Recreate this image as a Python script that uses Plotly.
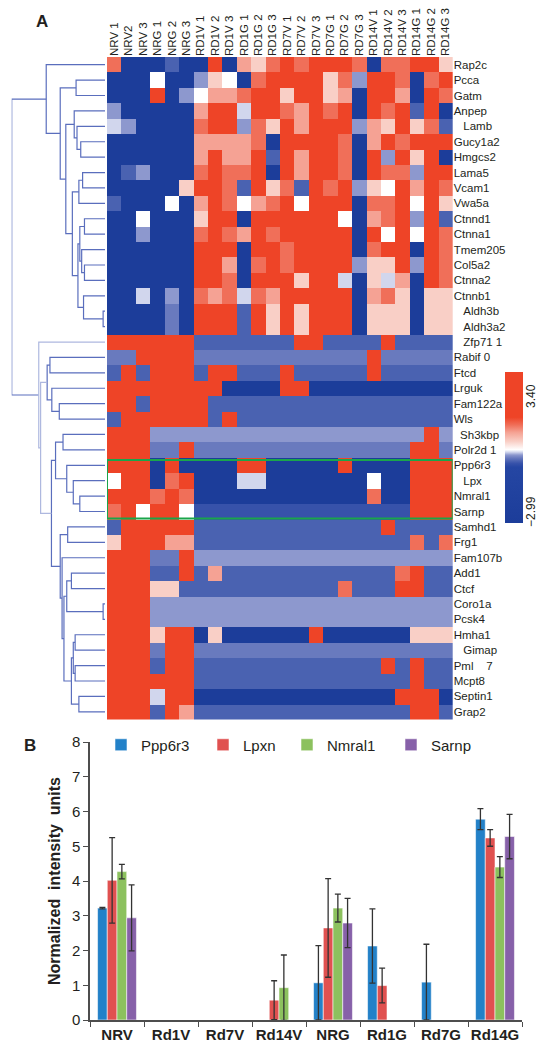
import plotly.graph_objects as go

W, H = 546, 1050
NB = "\u00a0"

# ---------------- Panel A data ----------------
col_labels = ["NRV 1", "NRV2", "NRV 3", "NRG 1", "NRG 2", "NRG 3",
              "RD1V 1", "RD1V 2", "RD1V 3", "RD1G 1", "RD1G 2", "RD1G 3",
              "RD7V 1", "RD7V 2", "RD7V 3", "RD7G 1", "RD7G 2", "RD7G 3",
              "RD14V 1", "RD14V 2", "RD14V 3", "RD14G 1", "RD14G 2", "RD14G 3"]

row_labels = ["Rap2c", "Pcca", "Gatm", "Anpep", NB * 3 + "Lamb", "Gucy1a2", "Hmgcs2",
              "Lama5", "Vcam1", "Vwa5a", "Ctnnd1", "Ctnna1", "Tmem205", "Col5a2",
              "Ctnna2", "Ctnnb1", NB * 3 + "Aldh3b", NB * 3 + "Aldh3a2", NB * 3 + "Zfp71 1",
              "Rabif 0", "Ftcd", "Lrguk", "Fam122a", "Wls", NB * 2 + "Sh3kbp", "Polr2d 1",
              "Ppp6r3", NB * 3 + "Lpx", "Nmral1", "Sarnp", "Samhd1", "Frg1", "Fam107b",
              "Add1", "Ctcf", "Coro1a", "Pcsk4", "Hmha1", NB * 3 + "Gimap",
              "Pml" + NB * 4 + "7", "Mcpt8", "Septin1", "Grap2"]

# colour level of every cell (one string per gene row, one char per sample column)
heat_rows = [
    "sBBBbBBRBqpsRsRRRsBssRRp",
    "BBBwBBlpwBsRRRRpslRRsBsR",
    "BBBRBlwqqsRRpRRpqBRRqBRs",
    "lBBBBBqRRvRRsqRsRBRsRbRB",
    "vlBBBBsRRlspRqRRRlqpRpsb",
    "BBBBBBqqqqsBRRRRsBqRsRRR",
    "BBBBBBqRqqRbRqRRsBRlRpRB",
    "BblBBBsRssRBRqRRsBRsslRR",
    "BBBBBpRRsbRpsbRsRlpwRqRs",
    "bBBBwBqRswqsRwRRRBssRwRp",
    "BBwBBBpRRBRRRRRRwBqsRlRb",
    "BBlBBBsRsqRsRRRRRBRwRwRs",
    "BBBBBBRRRBRRsRRRRBsRRBRs",
    "BBBBBBRRqBsRsRRRRlppRlRs",
    "BBBBBBRRsBRRRpRRvBpvqBRs",
    "BBvBlBsqsvsqRRRRRBqspBpp",
    "BBBBmBRRRbRpRpRRRBpppBpp",
    "BBBBmBRRRbRpRpRRRBpppBpp",
    "RRRRRRbbbbbbbRRbbbbRbbbb",
    "mmRRRRmmmmmmmmmmmmRmmmmm",
    "bRbRRRbRRbbbRbbbbbRbbbbb",
    "RRRRRRRRBBBBRRBBBBBBBBBB",
    "RRbRRRRbbbbbbbbbbbbbbbbb",
    "bRRRRRRbRbbbbbbbbbbbbbbb",
    "RRRlllllllllllllllllllRl",
    "RRRmmRmmmmmmmmmmmmmmmRRm",
    "RRRBRBBBBRRBBBBBRBBBBRRR",
    "wRRBsRBBBvvBBBBBBBwBBRRR",
    "RRRsRsBBBBBBBBBBBBsBBRRR",
    "sRwRRwDDDDDDDDDDDDDDDRRR",
    "bRRRRRbbbbbbbbbbbbbRbbbb",
    "pRRRqqbbbbbbbbbbbbbbbsbs",
    "RRRmmRllllllllllllllllll",
    "RRRbbRbqbbbbbbbbbbbbsRbb",
    "RRRppbbbbbbbbbbbsbbbRRbb",
    "RRRlllllllllllllllllllll",
    "RRRlllllllllllllllllllll",
    "RRRpRRBpBBBBBBRBBBBBBppp",
    "RRRmRRmmmmmmmmmmmmmmmmmm",
    "RRRbRRbbbbbbbbbbbbbRbRbb",
    "RRRRRRbbbbbbbbbbbbbbbRbb",
    "RRRvRRBBBBBBBBBBBBBBRRRB",
    "RRRbRqbbbbbbbbbbbbbbbRRb",
]

# value (log-scale units of the colour bar) for each colour level
level_values = {"B": -2.99, "D": -0.47, "b": -0.37, "m": -0.24, "l": -0.11,
                "v": 0.01, "w": 0.11, "p": 0.46, "q": 0.84, "s": 1.16, "R": 3.0}
zmin, zmax = -2.99, 3.40

# row dendrogram: [child_a, child_b, distance] (scipy-style ids, leaves 0..42)
linkage = [
    [16, 17, 0.02], [15, 43, 0.23], [13, 14, 0.22], [12, 45, 0.25], [10, 11, 0.22],
    [47, 46, 0.27], [48, 44, 0.29], [7, 8, 0.24], [9, 50, 0.28], [51, 49, 0.35],
    [5, 6, 0.26], [4, 53, 0.30], [3, 54, 0.33], [55, 52, 0.42], [1, 2, 0.31],
    [57, 56, 0.48], [0, 58, 0.63],
    [19, 20, 0.59], [22, 23, 0.49], [21, 61, 0.57], [60, 62, 0.62],
    [24, 25, 0.45], [28, 29, 0.27], [27, 65, 0.34], [26, 66, 0.41], [64, 67, 0.53],
    [30, 31, 0.40], [33, 34, 0.36], [35, 36, 0.02], [70, 71, 0.41],
    [37, 38, 0.32], [39, 40, 0.32], [73, 74, 0.34], [41, 42, 0.28], [75, 76, 0.36],
    [72, 77, 0.44], [32, 78, 0.46], [69, 79, 0.48], [68, 80, 0.574],
    [63, 81, 0.69], [18, 82, 0.71], [59, 83, 1.0],
]
light_links = [39, 40]

# ---------------- Panel B data ----------------
categories = ["NRV", "Rd1V", "Rd7V", "Rd14V", "NRG", "Rd1G", "Rd7G", "Rd14G"]
series_names = ["Ppp6r3", "Lpxn", "Nmral1", "Sarnp"]
# None = no expression detected (no bar drawn)
ppp6r3 = [3.22, None, None, None, 1.07, 2.13, 1.09, 5.78]
ppp6r3_err = [0.02, None, None, None, 1.07, 1.07, 1.09, 0.30]
lpxn = [4.02, None, None, 0.57, 2.65, 0.99, None, 5.24]
lpxn_err = [1.23, None, None, 0.56, 1.42, 0.50, None, 0.24]
nmral1 = [4.27, None, None, 0.93, 3.22, None, None, 4.40]
nmral1_err = [0.21, None, None, 0.94, 0.40, None, None, 0.30]
sarnp = [2.94, None, None, None, 2.79, None, None, 5.28]
sarnp_err = [0.95, None, None, None, 0.71, None, None, 0.64]
bar_colors = ["#2381c8", "#e05150", "#8cc15e", "#8761a9"]


def fx(px):
    return px / W


def fy(py):
    return 1 - py / H


FONT = "Liberation Sans"
TXT = "#231f20"

fig = go.Figure()

# heatmap
z = [[level_values[c] for c in row] for row in heat_rows]
cscale = [
    [0.0, "#1c3d9a"], [0.37, "#2546a3"], [0.395, "#3752aa"], [0.41, "#4a62b1"],
    [0.43, "#6879be"], [0.45, "#8a96cd"], [0.47, "#d3d8ee"], [0.485, "#ffffff"],
    [0.54, "#f9cfc6"], [0.60, "#f5a293"], [0.65, "#f06e58"], [0.70, "#ee4427"],
    [1.0, "#ee4427"],
]
fig.add_trace(go.Heatmap(
    z=z, x=list(range(len(col_labels))), y=list(range(len(row_labels))),
    zmin=zmin, zmax=zmax, colorscale=cscale, xaxis="x", yaxis="y",
    showscale=True, hoverinfo="skip",
    colorbar=dict(x=fx(505), xanchor="left", y=fy(372), yanchor="top",
                  len=151 / H, lenmode="fraction", thickness=18, thicknessmode="pixels",
                  xpad=0, ypad=0, outlinewidth=0, showticklabels=False, ticks=""),
))

# dendrogram
n = len(row_labels)
pos = {i: float(i) for i in range(n)}
hgt = {i: 0.0 for i in range(n)}
dx, dy, lx, ly = [], [], [], []
for k, (a, b, h) in enumerate(linkage):
    xs = [hgt[a], h, h, hgt[b], None]
    ys = [pos[a], pos[a], pos[b], pos[b], None]
    if k in light_links:
        lx += xs
        ly += ys
    else:
        dx += xs
        dy += ys
    pos[n + k] = (pos[a] + pos[b]) / 2
    hgt[n + k] = h
fig.add_trace(go.Scatter(x=dx, y=dy, mode="lines", line=dict(color="#5a6ebd", width=1.2),
                         xaxis="x2", yaxis="y2", showlegend=False, hoverinfo="skip"))
fig.add_trace(go.Scatter(x=lx, y=ly, mode="lines", line=dict(color="#aeb8df", width=1.2),
                         xaxis="x2", yaxis="y2", showlegend=False, hoverinfo="skip"))

# bars
vals = [ppp6r3, lpxn, nmral1, sarnp]
errs = [ppp6r3_err, lpxn_err, nmral1_err, sarnp_err]
legend_ids = ["legend", "legend2", "legend3", "legend4"]
for name, v, e, c, lg in zip(series_names, vals, errs, bar_colors, legend_ids):
    fig.add_trace(go.Bar(
        x=categories, y=v, name=name,
        marker=dict(color=c, line=dict(color="rgba(255,255,255,0.55)", width=1)),
        error_y=dict(type="data", array=e, visible=True, color="#333333", thickness=1.3, width=3),
        xaxis="x3", yaxis="y3", legend=lg, hoverinfo="skip",
    ))

heat_top, heat_bot = 57, 719.5
layout = dict(
    width=W, height=H, margin=dict(l=0, r=0, t=0, b=0, autoexpand=False),
    paper_bgcolor="white", plot_bgcolor="white",
    font=dict(family=FONT, color=TXT),
    xaxis=dict(domain=[fx(107), fx(452.7)], range=[-0.5, len(col_labels) - 0.5], anchor="y",
               side="top", tickmode="array", tickvals=list(range(len(col_labels))),
               ticktext=col_labels, tickangle=-90, tickfont=dict(size=11.5, color=TXT),
               showgrid=False, zeroline=False, showline=False, ticks="", automargin=False),
    yaxis=dict(domain=[fy(heat_bot), fy(heat_top)], range=[n - 0.5, -0.5], anchor="x",
               side="right", tickmode="array", tickvals=list(range(n)), ticktext=row_labels,
               tickfont=dict(size=11.5, color=TXT), showgrid=False, zeroline=False,
               showline=False, ticks="", automargin=False),
    xaxis2=dict(domain=[fx(11.7), fx(105)], range=[1.0, 0.0], anchor="y2", visible=False,
                automargin=False),
    yaxis2=dict(domain=[fy(heat_bot), fy(heat_top)], range=[n - 0.5, -0.5], anchor="x2",
                visible=False, automargin=False),
    xaxis3=dict(domain=[fx(90), fx(522)], anchor="y3", type="category",
                categoryorder="array", categoryarray=categories,
                showline=True, linecolor="#4d4d4d", linewidth=1.5, ticks="outside",
                tickson="boundaries", ticklen=5, tickcolor="#4d4d4d", tickangle=0,
                tickfont=dict(size=15, color=TXT, weight="bold"), showgrid=False,
                automargin=False),
    yaxis3=dict(domain=[fy(1020), fy(742)], anchor="x3", range=[0, 8], dtick=1,
                showline=True, linecolor="#4d4d4d", linewidth=1.5, ticks="outside",
                ticklen=5, tickcolor="#4d4d4d", tickfont=dict(size=15, color=TXT),
                showgrid=False, zeroline=False, automargin=False,
                title=dict(text="Normalized" + NB * 2 + "intensity" + NB * 2 + "units",
                           font=dict(size=16, color=TXT, weight="bold"), standoff=7)),
    barmode="group", bargap=0.28, bargroupgap=0,
    shapes=[dict(type="rect", xref="x", yref="y", x0=-0.5, x1=len(col_labels) - 0.5,
                 y0=25.65, y1=29.45, line=dict(color="#1aa54b", width=2))],
    annotations=[
        dict(text="<b>A</b>", x=fx(42), y=fy(22), xref="paper", yref="paper",
             xanchor="center", yanchor="middle",
             showarrow=False, font=dict(size=17, color=TXT)),
        dict(text="<b>B</b>", x=fx(30), y=fy(745), xref="paper", yref="paper",
             xanchor="center", yanchor="middle",
             showarrow=False, font=dict(size=17, color=TXT)),
        dict(text="3.40", x=fx(531), y=fy(396), xref="paper", yref="paper", textangle=-90,
             xanchor="center", yanchor="middle",
             showarrow=False, font=dict(size=12, color=TXT)),
        dict(text="\u22122.99", x=fx(531), y=fy(512), xref="paper", yref="paper",
             textangle=-90, xanchor="center", yanchor="middle",
             showarrow=False, font=dict(size=12, color=TXT)),
    ],
)
text_starts = [141, 243, 327, 431]
for lg, xs in zip(legend_ids, text_starts):
    layout[lg] = dict(x=fx(xs - 40), y=fy(745), xanchor="left", yanchor="middle",
                      orientation="h", bgcolor="rgba(0,0,0,0)",
                      font=dict(size=15, color=TXT), itemwidth=30)
fig.update_layout(**layout)

fig.write_html("out.html", config={"displayModeBar": False},
               post_script="document.body.style.margin='0';document.body.style.overflow='hidden';")
